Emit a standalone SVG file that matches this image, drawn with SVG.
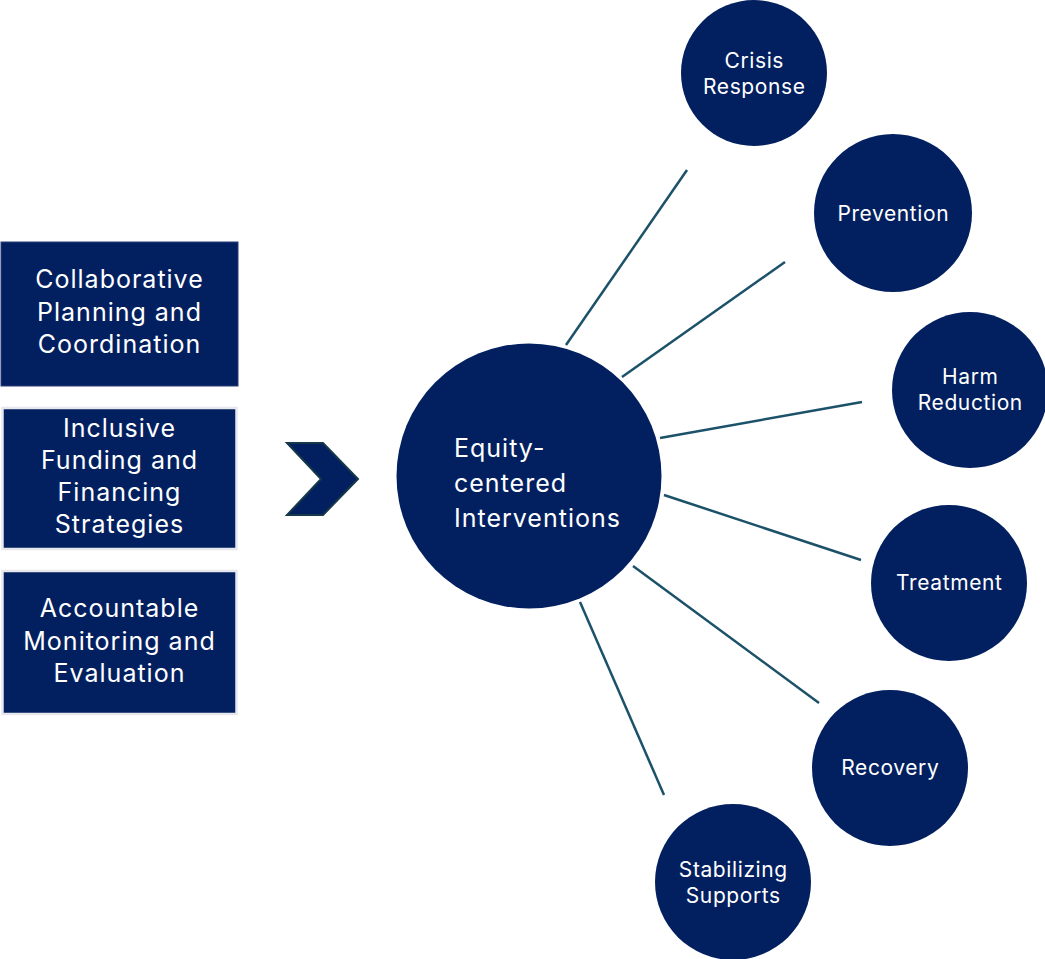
<svg xmlns="http://www.w3.org/2000/svg" width="1045" height="959" viewBox="0 0 1045 959">
<style>
.box{fill:#02205f;}
.bt{font-family:Inter,"Noto Sans",sans-serif;font-size:25px;letter-spacing:1px;fill:#ffffff;text-anchor:middle;}
.ct{font-family:Inter,"Noto Sans",sans-serif;font-size:25px;letter-spacing:1px;fill:#ffffff;}
.st{font-family:Inter,"Noto Sans",sans-serif;font-size:21px;letter-spacing:0.6px;fill:#ffffff;text-anchor:middle;}
.node{fill:#02205f;}
.conn line{stroke:#1b5269;stroke-width:2.5;}
</style>
<rect width="1045" height="959" fill="#ffffff"/>
<g id="box-planning">
<rect class="box" x="1" y="242" width="237" height="144" stroke="#2a3f7a" stroke-width="1"/>
<text class="bt" x="119.5" y="288">Collaborative</text>
<text class="bt" x="119.5" y="321">Planning and</text>
<text class="bt" x="119.5" y="353">Coordination</text>
</g>
<g id="box-funding">
<rect class="box" x="2.5" y="408" width="234" height="141" stroke="#e6e8ee" stroke-width="2.5"/>
<text class="bt" x="119.5" y="437">Inclusive</text>
<text class="bt" x="119.5" y="469">Funding and</text>
<text class="bt" x="119.5" y="501">Financing</text>
<text class="bt" x="119.5" y="533">Strategies</text>
</g>
<g id="box-monitoring">
<rect class="box" x="2.5" y="571" width="234" height="143" stroke="#e6e8ee" stroke-width="2.5"/>
<text class="bt" x="119.5" y="617">Accountable</text>
<text class="bt" x="119.5" y="650">Monitoring and</text>
<text class="bt" x="119.5" y="682">Evaluation</text>
</g>
<g id="chevron">
<polygon points="287,443 323,443 358,479 323,515 287,515 321,479" fill="#02205f" stroke="#163848" stroke-width="2" stroke-linejoin="miter"/>
</g>
<g id="connectors" class="conn">
<line x1="566" y1="345" x2="687" y2="170"/>
<line x1="622" y1="377" x2="785" y2="262"/>
<line x1="660" y1="438" x2="862" y2="402"/>
<line x1="664" y1="495" x2="861" y2="560"/>
<line x1="633" y1="566" x2="819" y2="703"/>
<line x1="580" y1="602" x2="664" y2="795"/>
</g>
<g id="center">
<circle class="node" cx="529" cy="476" r="132.5"/>
<text class="ct" x="454" y="457">Equity-</text>
<text class="ct" x="454" y="492">centered</text>
<text class="ct" x="454" y="527">Interventions</text>
</g>
<g id="crisis">
<circle class="node" cx="754" cy="73" r="73"/>
<text class="st" x="754.3" y="68">Crisis</text>
<text class="st" x="754.3" y="94">Response</text>
</g>
<g id="prevention">
<circle class="node" cx="893" cy="213" r="79"/>
<text class="st" x="893.3" y="221">Prevention</text>
</g>
<g id="harm">
<circle class="node" cx="970" cy="390" r="78"/>
<text class="st" x="970.3" y="384">Harm</text>
<text class="st" x="970.3" y="410">Reduction</text>
</g>
<g id="treatment">
<circle class="node" cx="949" cy="583" r="78"/>
<text class="st" x="949.3" y="590">Treatment</text>
</g>
<g id="recovery">
<circle class="node" cx="890" cy="768" r="78"/>
<text class="st" x="890.3" y="775">Recovery</text>
</g>
<g id="stabilizing">
<circle class="node" cx="733" cy="882" r="78"/>
<text class="st" x="733.3" y="877">Stabilizing</text>
<text class="st" x="733.3" y="903">Supports</text>
</g>
</svg>
